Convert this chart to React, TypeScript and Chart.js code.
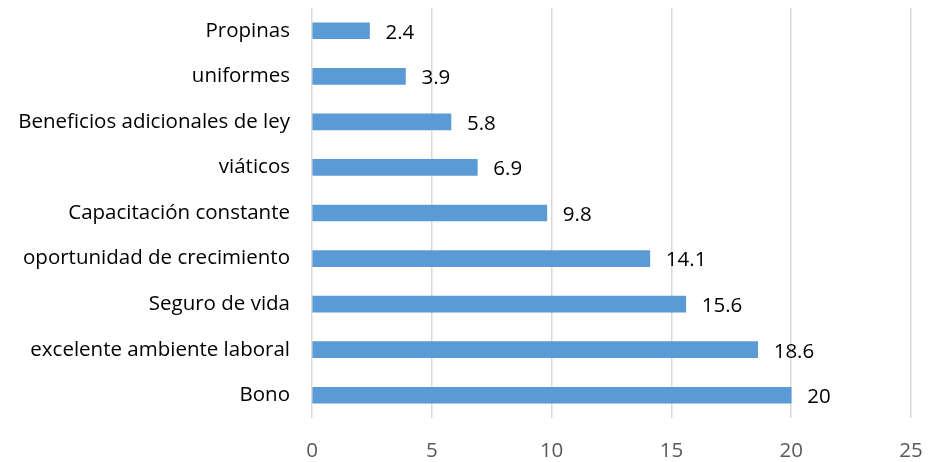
import React, { useEffect, useRef } from "react";
import { Chart, registerables } from "chart.js";

Chart.register(...registerables);

const categories = [
  "Propinas",
  "uniformes",
  "Beneficios adicionales de ley",
  "viáticos",
  "Capacitación constante",
  "oportunidad de crecimiento",
  "Seguro de vida",
  "excelente ambiente laboral",
  "Bono",
];
const values = [2.4, 3.9, 5.8, 6.9, 9.8, 14.1, 15.6, 18.6, 20];
const xTicks = [0, 5, 10, 15, 20, 25];

const FONT = "'Open Sans', sans-serif";
const FSIZE = 20.5;

const labelPlugin = {
  id: "barLabels",
  afterDatasetsDraw(chart: any) {
    const ctx = chart.ctx;
    const meta = chart.getDatasetMeta(0);
    ctx.save();
    ctx.font = `${FSIZE}px ${FONT}`;
    ctx.fillStyle = "#000000";
    ctx.textAlign = "left";
    ctx.textBaseline = "middle";
    meta.data.forEach((el: any, i: number) => {
      const v = values[i];
      ctx.fillText(String(v), el.x + 16, el.y + 2);
    });
    ctx.restore();
  },
};

export default function App() {
  const ref = useRef<HTMLCanvasElement>(null);
  useEffect(() => {
    document.body.style.margin = "0";
    const chart = new Chart(ref.current!, {
      type: "bar",
      data: {
        labels: categories,
        datasets: [
          {
            data: values,
            backgroundColor: "#5B9BD5",
            barThickness: 16,
          },
        ],
      },
      options: {
        indexAxis: "y",
        animation: false,
        responsive: false,
        maintainAspectRatio: false,
        layout: { padding: { top: 8, right: 17, left: 0, bottom: 0 } },
        plugins: { legend: { display: false }, tooltip: { enabled: false } },
        scales: {
          x: {
            min: 0,
            max: 25,
            afterBuildTicks: (s: any) => {
              s.ticks = xTicks.map((v) => ({ value: v }));
            },
            grid: { color: "#D9D9D9", lineWidth: 1.5, drawTicks: false },
            border: { display: false },
            ticks: {
              color: "#595959",
              font: { family: FONT, size: FSIZE },
              padding: 21,
            },
            afterFit: (s: any) => {
              s.height = 44;
              s.paddingLeft = 0;
              s.paddingRight = 0;
            },
          },
          y: {
            grid: { display: false, drawTicks: false },
            border: { display: false },
            ticks: {
              color: "#000000",
              font: { family: FONT, size: FSIZE },
              padding: 22,
              autoSkip: false,
            },
            afterFit: (s: any) => {
              s.width = 312;
              s.paddingTop = 0;
              s.paddingBottom = 0;
            },
          },
        },
      },
      plugins: [labelPlugin],
    });
    return () => chart.destroy();
  }, []);
  return (
    <div style={{ position: "absolute", left: 0, top: 0, width: 928, height: 462 }}>
      <canvas ref={ref} width={928} height={462} style={{ width: 928, height: 462 }} />
    </div>
  );
}
